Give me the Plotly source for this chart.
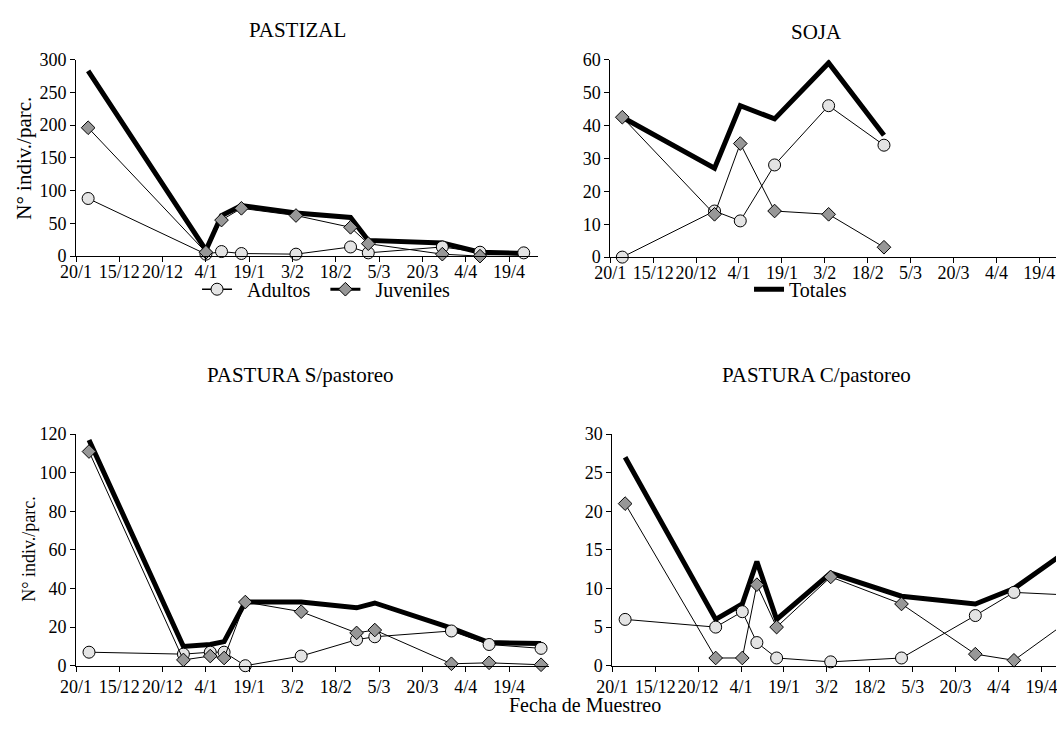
import plotly.graph_objects as go

# ---------------- data ----------------
tick_labels = ["20/1", "15/12", "20/12", "4/1", "19/1", "3/2", "18/2", "5/3", "20/3", "4/4", "19/4"]
tick_pos = list(range(len(tick_labels)))

# PASTIZAL
pz_x = [0.28, 3.0, 3.36, 3.82, 5.08, 6.34, 6.75, 8.46, 9.33, 10.34]
pz_adultos = [88, 3, 7, 4, 3, 14, 5, 14, 6, 5]
pz_juveniles = [196, 6, 55, 73, 62, 44, 19, 3, 0, -1]
pz_totales = [283, 9, 62, 77, 66, 59, 24, 20, 6, 4]

# SOJA
sj_x = [0.28, 2.43, 3.03, 3.83, 5.09, 6.38]
sj_adultos = [0, 14, 11, 28, 46, 34]
sj_juveniles = [42.5, 13, 34.5, 14, 13, 3]
sj_totales = [42.5, 27, 46, 42, 59, 37]

# PASTURA S/pastoreo
ps_x = [0.30, 2.48, 3.10, 3.42, 3.91, 5.2, 6.48, 6.9, 8.67, 9.54, 10.74]
ps_adultos = [7, 6, 7, 7, 0, 5, 13.5, 15, 18, 11, 9]
ps_juveniles = [111, 3, 5, 4, 33, 28, 17, 18.5, 1, 1.5, 0.5]
ps_totales = [117, 10, 11, 12.5, 33, 33, 30, 32.5, 19.5, 12, 11.5]

# PASTURA C/pastoreo
pc_x = [0.30, 2.41, 3.03, 3.37, 3.83, 5.09, 6.74, 8.46, 9.36, 10.48]
pc_adultos = [6, 5, 7, 3, 1, 0.5, 1, 6.5, 9.5, 9.2]
pc_juveniles = [21, 1, 1, 10.5, 5, 11.5, 8, 1.5, 0.7, 5.2]
pc_totales = [27, 6, 8, 13.5, 6, 12, 9, 8, 10, 14.4]

panel_titles = ["PASTIZAL", "SOJA", "PASTURA S/pastoreo", "PASTURA C/pastoreo"]
y_title = "N° indiv./parc."
x_title = "Fecha de Muestreo"
legend_names = ["Adultos", "Juveniles", "Totales"]

# ---------------- layout helpers ----------------
W, H = 1057, 737
FONT = "Liberation Serif"
ADULT_FILL = "#e4e4e4"
JUV_FILL = "#979797"
NB = "\u00a0"


def dx(a, b):
    return [a / W, b / W]


def dy(top, bottom):
    return [1 - bottom / H, 1 - top / H]


panels = [
    dict(x=pz_x, a=pz_adultos, j=pz_juveniles, t=pz_totales,
         xd=dx(61, 531), yd=dy(51, 253), xr=[0, 10.68], yr=[0, 300], dt=50, so=-6),
    dict(x=sj_x, a=sj_adultos, j=sj_juveniles, t=sj_totales,
         xd=dx(604, 1057), yd=dy(51, 254), xr=[0, 10.39], yr=[0, 60], dt=10, so=-6),
    dict(x=ps_x, a=ps_adultos, j=ps_juveniles, t=ps_totales,
         xd=dx(61, 542), yd=dy(436, 674), xr=[0, 10.93], yr=[0, 120], dt=20, so=0),
    dict(x=pc_x, a=pc_adultos, j=pc_juveniles, t=pc_totales,
         xd=dx(606, 1057), yd=dy(436, 674), xr=[0, 10.34], yr=[0, 30], dt=5, so=0),
]

fig = go.Figure()
layout = dict(
    width=W, height=H,
    margin=dict(l=0, r=0, t=0, b=0),
    paper_bgcolor="white", plot_bgcolor="white",
    font=dict(family=FONT, color="black", size=18),
    annotations=[],
)

for i, p in enumerate(panels):
    n = "" if i == 0 else str(i + 1)
    xa, ya = "x" + n, "y" + n
    common = dict(xaxis=xa, yaxis=ya, showlegend=False, cliponaxis=False,
                  hoverinfo="skip")
    fig.add_trace(go.Scatter(x=p["x"], y=p["t"], mode="lines",
                             line=dict(color="black", width=5), **common))
    fig.add_trace(go.Scatter(x=p["x"], y=p["a"], mode="lines+markers",
                             line=dict(color="black", width=1),
                             marker=dict(symbol="circle", size=12, color=ADULT_FILL,
                                         line=dict(color="black", width=1)), **common))
    fig.add_trace(go.Scatter(x=p["x"], y=p["j"], mode="lines+markers",
                             line=dict(color="black", width=1),
                             marker=dict(symbol="diamond", size=10.5, color=JUV_FILL,
                                         line=dict(color="black", width=1)), **common))
    axis_common = dict(showline=True, linecolor="black", linewidth=1, ticks="outside",
                       ticklen=5, tickcolor="black", tickwidth=1, showgrid=False,
                       zeroline=False, tickfont=dict(family=FONT, size=18, color="black"),
                       fixedrange=True, ticklabeloverflow="allow")
    layout["xaxis" + n] = dict(domain=p["xd"], range=p["xr"], anchor=ya,
                               tickmode="array", tickvals=tick_pos, ticktext=tick_labels,
                               tickangle=0, ticklabelstandoff=p["so"], **axis_common)
    layout["yaxis" + n] = dict(domain=p["yd"], range=p["yr"], anchor=xa,
                               dtick=p["dt"], tick0=0, **axis_common)

# legend-only traces
fig.add_trace(go.Scatter(x=[None], y=[None], name=NB * 2 + legend_names[0] + NB * 2,
                         mode="lines+markers", line=dict(color="black", width=1.5),
                         marker=dict(symbol="circle", size=12, color=ADULT_FILL,
                                     line=dict(color="black", width=1)),
                         legend="legend"))
fig.add_trace(go.Scatter(x=[None], y=[None], name=NB * 2 + legend_names[1],
                         mode="lines+markers", line=dict(color="black", width=3),
                         marker=dict(symbol="diamond", size=10.5, color=JUV_FILL,
                                     line=dict(color="black", width=1)),
                         legend="legend"))
fig.add_trace(go.Scatter(x=[None], y=[None], name=legend_names[2], mode="lines",
                         line=dict(color="black", width=5), legend="legend2"))

legend_y = 1 - 287 / H
layout["legend"] = dict(x=184 / W, y=legend_y, xanchor="left", yanchor="middle",
                        orientation="h", font=dict(family=FONT, size=20, color="black"),
                        bgcolor="rgba(0,0,0,0)", itemclick=False, itemdoubleclick=False)
layout["legend2"] = dict(x=745 / W, y=legend_y, xanchor="left", yanchor="middle",
                         orientation="h", font=dict(family=FONT, size=20, color="black"),
                         bgcolor="rgba(0,0,0,0)", itemclick=False, itemdoubleclick=False)

# subplot titles
title_pos = [(286, 21), (814, 23), (289, 375), (814, 375)]
for txt, (cx, cy) in zip(panel_titles, title_pos):
    layout["annotations"].append(dict(text=txt, x=cx / W, y=1 - cy / H, xref="paper",
                                      yref="paper", showarrow=False, xanchor="center",
                                      yanchor="middle",
                                      font=dict(family=FONT, size=21, color="black")))
# y-axis titles
layout["annotations"].append(dict(text=y_title, x=8 / W, y=1 - 152 / H, xref="paper",
                                  yref="paper", showarrow=False, textangle=-90,
                                  xanchor="center", yanchor="middle",
                                  font=dict(family=FONT, size=21, color="black")))
layout["annotations"].append(dict(text=y_title, x=13 / W, y=1 - 554 / H, xref="paper",
                                  yref="paper", showarrow=False, textangle=-90,
                                  xanchor="center", yanchor="middle",
                                  font=dict(family=FONT, size=18, color="black")))
# x-axis title
layout["annotations"].append(dict(text=x_title, x=578 / W, y=1 - 714 / H, xref="paper",
                                  yref="paper", showarrow=False, xanchor="center",
                                  yanchor="middle",
                                  font=dict(family=FONT, size=20, color="black")))

fig.update_layout(**layout)
fig.write_html("out.html", config={"displayModeBar": False},
               post_script="document.body.style.margin='0px';"
                           "document.body.style.overflow='hidden';")
